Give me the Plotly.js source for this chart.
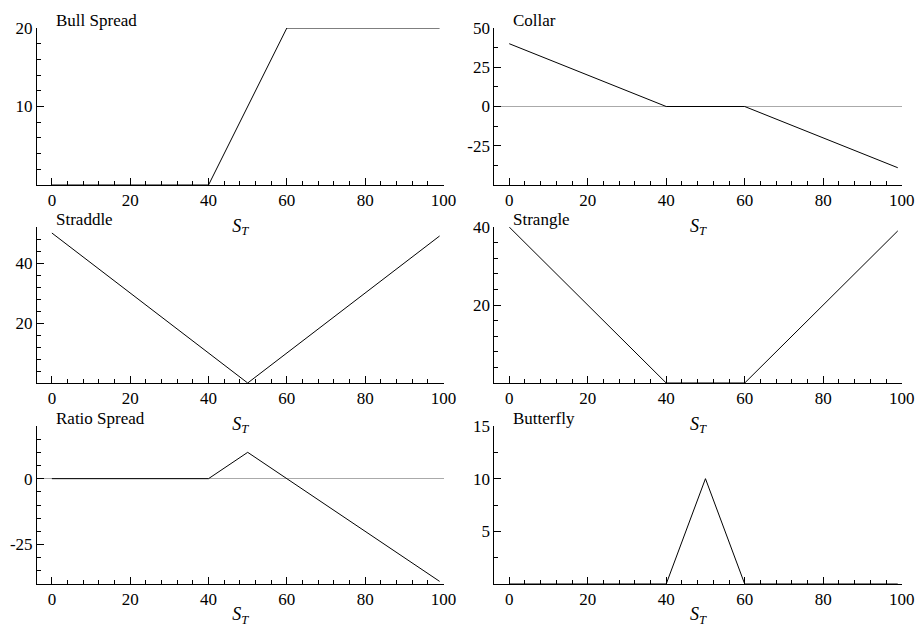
<!DOCTYPE html>
<html>
<head>
<meta charset="utf-8">
<script src="https://cdn.plot.ly/plotly-3.0.1.min.js"></script>
<style>
html,body{margin:0;padding:0;background:#fff;}
#chart{width:921px;height:627px;}
</style>
</head>
<body>
<div id="chart"></div>
<script>
// ---- data (payoff at expiry vs S_T) ----
const titles = ["Bull Spread", "Collar", "Straddle", "Strangle", "Ratio Spread", "Butterfly"];
const bullX = [0, 40, 60, 99];
const bullY = [0, 0, 20, 20];
const collarX = [0, 40, 60, 99];
const collarY = [40, 0, 0, -39];
const straddleX = [0, 50, 99];
const straddleY = [50, 0, 49];
const strangleX = [0, 40, 60, 99];
const strangleY = [40, 0, 0, 39];
const ratioX = [0, 40, 50, 99];
const ratioY = [0, 0, 10, -39];
const butterflyX = [0, 40, 50, 60, 99];
const butterflyY = [0, 0, 10, 0, 0];
const xTicks = [0, 20, 40, 60, 80, 100];
const yTicks = [[10, 20], [-25, 0, 25, 50], [20, 40], [20, 40], [-25, 0], [5, 10, 15]];
const yTickText = [["10", "20"], ["-25", "0", "25", "50"], ["20", "40"], ["20", "40"], ["-25", "0"], ["5", "10", "15"]];
const yRanges = [[0, 20], [-50, 50], [0, 52], [0, 40], [-40, 20], [0, 15]];
const yMinor = [2, 12.5, 4, 4, 5, 2.5];
const yZero = [false, true, false, false, true, false];

const series = [[bullX, bullY], [collarX, collarY], [straddleX, straddleY],
                [strangleX, strangleY], [ratioX, ratioY], [butterflyX, butterflyY]];

const W = 921, H = 627;
const colDom = [[37 / W, 443.5 / W], [494.3 / W, 901.7 / W]];
const rowDom = [[1 - 185 / H, 1 - 28 / H], [1 - 383 / H, 1 - 227 / H], [1 - 584 / H, 1 - 426 / H]];

const font = {family: "Liberation Serif, Times New Roman, Times, serif", size: 17, color: "#000"};
const traces = [];
const layout = {
  width: W, height: H,
  margin: {l: 0, r: 0, t: 0, b: 0},
  paper_bgcolor: "#fff", plot_bgcolor: "#fff",
  showlegend: false,
  font: font,
  annotations: []
};

series.forEach((s, i) => {
  const n = i + 1;
  const xa = n === 1 ? "xaxis" : "xaxis" + n;
  const ya = n === 1 ? "yaxis" : "yaxis" + n;
  const xr = n === 1 ? "x" : "x" + n;
  const yr = n === 1 ? "y" : "y" + n;
  traces.push({
    x: s[0], y: s[1], xaxis: xr, yaxis: yr,
    type: "scatter", mode: "lines",
    line: {color: "#000", width: 1},
    hoverinfo: "skip"
  });
  const col = i % 2, row = Math.floor(i / 2);
  layout[xa] = {
    domain: colDom[col], anchor: yr,
    range: [-3.8, 100],
    tickmode: "array", tickvals: xTicks,
    ticks: "inside", ticklen: 7, tickcolor: "#000", tickwidth: 1,
    minor: {tickmode: "linear", tick0: 0, dtick: 4, ticks: "inside", ticklen: 4, tickcolor: "#000", showgrid: false},
    showline: true, linecolor: "#000", linewidth: 1,
    showgrid: false, zeroline: false,
    tickfont: font,
    title: {text: "<i>S</i><sub><i>T</i></sub>", font: {family: font.family, size: 18, color: "#000"}, standoff: 9},
    fixedrange: true
  };
  layout[ya] = {
    domain: rowDom[row], anchor: xr,
    range: yRanges[i],
    tickmode: "array", tickvals: yTicks[i], ticktext: yTickText[i],
    ticks: "inside", ticklen: 7, tickcolor: "#000", tickwidth: 1,
    minor: {tickmode: "linear", tick0: 0, dtick: yMinor[i], ticks: "inside", ticklen: 4, tickcolor: "#000", showgrid: false},
    showline: true, linecolor: "#000", linewidth: 1,
    showgrid: false,
    zeroline: yZero[i], zerolinecolor: "#aaaaaa", zerolinewidth: 1,
    tickfont: font,
    fixedrange: true
  };
  layout.annotations.push({
    text: titles[i], showarrow: false,
    xref: xr, x: 0, xanchor: "left", xshift: 2,
    yref: yr + " domain", y: 1, yanchor: "bottom", yshift: -4,
    font: font
  });
});

Plotly.newPlot("chart", traces, layout, {staticPlot: true});
</script>
</body>
</html>
